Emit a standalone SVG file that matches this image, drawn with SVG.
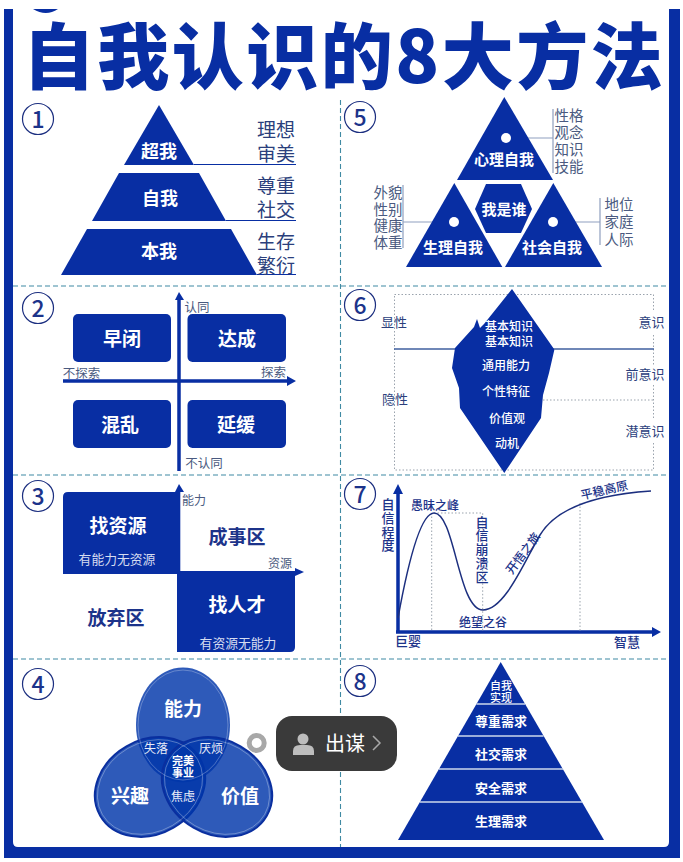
<svg xmlns="http://www.w3.org/2000/svg" width="683" height="862" viewBox="0 0 683 862">
<style>
text{font-family:"Noto Sans CJK SC","Noto Sans",sans-serif;text-anchor:middle;dominant-baseline:central}
.b{fill:#082ea3}
.w{fill:#fff;font-weight:700}
.m{fill:#fff;font-weight:500}
.n{fill:#2b3f7c}
.d{fill:#1c338a;font-weight:700}
.e{fill:#1c338a;font-weight:500}
.s{fill:#4a5a80}
.dash{stroke:#3f8aa3;stroke-width:1.1;stroke-dasharray:5 3;fill:none}
.dot{stroke:#9aa3ad;stroke-width:1;stroke-dasharray:1.5 2;fill:none}
.ln{stroke:#082ea3;stroke-width:1.2;fill:none}
.gl{stroke:#8f9fbf;stroke-width:1.2;fill:none}
.ax{stroke:#082ea3;stroke-width:3.5;fill:none}
.c{fill:#fff;stroke:#1c2f80;stroke-width:1.2}
.cn{fill:#1c338a;font-size:23px;font-weight:500}
.ve{fill:#0036aa;fill-opacity:.82}
.vr{stroke:#0a2f9f;stroke-width:2}
.vi{fill:none;stroke:#fff;stroke-opacity:.35;stroke-width:.8}
.sl{stroke:#ccd7ec;stroke-width:1.4}
</style>
<g id="frame">
<path class="b" fill-rule="evenodd" d="M4 9H13V842Q13 847 18 847H664Q669 847 669 842V9H680V858H4Z"/>
<path class="b" d="M33 9H58Q46 17 33 9Z"/>
</g>
<text id="title" x="344" y="51.500" class="b" font-size="72" font-weight="900" letter-spacing="2.500">自我认识的8大方法</text>
<g id="dividers">
<path class="dash" d="M13 286H669M13 475H669M13 659H669M340.500 100V847"/>
</g>
<g id="badges">
<circle class="c" cx="38" cy="119" r="15.500"/><text class="cn" x="38" y="118">1</text>
<circle class="c" cx="360" cy="117" r="15.500"/><text class="cn" x="360" y="116">5</text>
<circle class="c" cx="38" cy="308" r="15.500"/><text class="cn" x="38" y="307">2</text>
<circle class="c" cx="360" cy="305" r="15.500"/><text class="cn" x="360" y="304">6</text>
<circle class="c" cx="38" cy="496" r="15.500"/><text class="cn" x="38" y="495">3</text>
<circle class="c" cx="360" cy="494" r="15.500"/><text class="cn" x="360" y="493">7</text>
<circle class="c" cx="38" cy="684" r="15.500"/><text class="cn" x="38" y="683">4</text>
<circle class="c" cx="360" cy="681" r="15.500"/><text class="cn" x="360" y="680">8</text>
</g>
<g id="connectors">
<path class="ln" d="M194 164.500H296M226 220.500H296M257 274.500H296"/>
<path class="gl" d="M506 138H553M553 109V173M403 185V248M403 222H454M600 198V245M553 222H600"/>
<path class="ax" d="M179 300V471M63 381H288"/>
<path class="b" d="M179 292L184 300H175ZM296 381L287 376V386Z"/>
<path class="dot" d="M394.500 294.500H653.500V312M653.500 335V365M653.500 385V420M653.500 443V470H394.500V294.500M543 400H653.500"/>
<path stroke="#3f5f9f" stroke-width="1.400" d="M394 349H654"/>
<path class="b" d="M179 484L184 492H175ZM304 572L295 568V576Z"/>
<path class="ax" d="M398 494V632M396 632H653"/>
<path class="b" d="M398 484L403 494H393ZM661 632L652 627V637Z"/>
<path class="dot" d="M431.700 513V632M434 513H482.700V632M580 503V632"/>
<path d="M398 618C404 585 418 513 434 513C455 513 458 610 483 610C505 610 525 560 540 535C555 510 590 495 651 491" fill="none" stroke="#1c2f7f" stroke-width="1.500"/>
</g>
<g id="method-1">
<path id="n-super" class="b" d="M159 105L194 165H124Z"/><text class="w" x="159" y="150" font-size="18">超我</text>
<path id="n-ego" class="b" d="M119 173H199L226 221H92Z"/><text class="w" x="160" y="197" font-size="18">自我</text>
<path id="n-id" class="b" d="M87 229H231L257 275H61Z"/><text class="w" x="159" y="250" font-size="18">本我</text>
<text class="n" font-size="19"><tspan x="276" y="128">理想</tspan><tspan x="276" y="152">审美</tspan></text>
<text class="n" font-size="19"><tspan x="276" y="184">尊重</tspan><tspan x="276" y="208">社交</tspan></text>
<text class="n" font-size="19"><tspan x="276" y="240">生存</tspan><tspan x="276" y="264">繁衍</tspan></text>
</g>
<g id="method-5">
<path id="n-psy" class="b" d="M504.300 97L553 180H457Z"/><circle cx="506" cy="138" r="5" fill="#fff"/><text class="w" x="504" y="158" font-size="15">心理自我</text>
<path id="n-bio" class="b" d="M454.300 183L502.300 267H406Z"/><circle cx="454" cy="222" r="5" fill="#fff"/><text class="w" x="453" y="246" font-size="15">生理自我</text>
<path id="n-soc" class="b" d="M553.300 183L602 267H505Z"/><circle cx="553" cy="222" r="5" fill="#fff"/><text class="w" x="552" y="246" font-size="15">社会自我</text>
<path id="n-who" class="b" d="M475 209L486 184H521L532 209L521 233H486Z"/><text class="w" x="504" y="208" font-size="15">我是谁</text>
<text class="s" font-size="14.500"><tspan x="569" y="114">性格</tspan><tspan x="569" y="131">观念</tspan><tspan x="569" y="148">知识</tspan><tspan x="569" y="165">技能</tspan></text>
<text class="s" font-size="14.500"><tspan x="388" y="191">外貌</tspan><tspan x="388" y="207.500">性别</tspan><tspan x="388" y="224">健康</tspan><tspan x="388" y="241">体重</tspan></text>
<text class="s" font-size="14.500"><tspan x="619" y="203">地位</tspan><tspan x="619" y="220">家庭</tspan><tspan x="619" y="238">人际</tspan></text>
</g>
<g id="method-2">
<g id="n-foreclosed"><rect class="b" x="73" y="314" width="98" height="48" rx="5"/><text class="w" x="122" y="337" font-size="19">早闭</text></g>
<g id="n-achieved"><rect class="b" x="187.500" y="314" width="98.500" height="48" rx="5"/><text class="w" x="237" y="337" font-size="19">达成</text></g>
<g id="n-diffused"><rect class="b" x="73" y="400" width="98" height="48" rx="5"/><text class="w" x="120" y="423" font-size="19">混乱</text></g>
<g id="n-moratorium"><rect class="b" x="187.500" y="400" width="98.500" height="48" rx="5"/><text class="w" x="236" y="423" font-size="19">延缓</text></g>
<g class="s" font-size="12.500"><text x="197" y="306">认同</text><text x="81.500" y="372">不探索</text><text x="273.500" y="371">探索</text><text x="204" y="462">不认同</text></g>
</g>
<g id="method-6">
<path id="n-iceberg" class="b" d="M512 289L554 349L554.300 350L549 373L543 395L541 418L504.300 473L460 408L459 388L452 368L455 348L474 327L477 319L480 328L484 324Z"/>
<text class="m" font-size="12"><tspan x="509" y="325">基本知识</tspan><tspan x="509" y="340">基本知识</tspan></text>
<g class="m" font-size="12"><text x="506" y="364">通用能力</text><text x="506" y="390">个性特征</text><text x="507" y="417">价值观</text><text x="507" y="442">动机</text></g>
<g class="n" font-size="13"><text x="394" y="321">显性</text><text x="395" y="398">隐性</text><text x="651.500" y="321">意识</text><text x="645" y="373">前意识</text><text x="645" y="430">潜意识</text></g>
</g>
<g id="method-3">
<g id="n-find-res"><path class="b" d="M68 492H180.300V574H63V497Q63 492 68 492Z"/><text class="w" x="118" y="524" font-size="19">找资源</text><text fill="#d5dcf0" x="117" y="558" font-size="12.800">有能力无资源</text></g>
<g id="n-find-people"><path class="b" d="M177 571H295V647Q295 652 290 652H177Z"/><text class="w" x="237" y="603" font-size="19">找人才</text><text fill="#d5dcf0" x="238" y="642" font-size="12.800">有资源无能力</text></g>
<text class="d" x="237" y="535" font-size="19">成事区</text>
<text class="d" x="116" y="616" font-size="19">放弃区</text>
<g class="s" font-size="12"><text x="194" y="499">能力</text><text x="280" y="562">资源</text></g>
</g>
<g id="method-7">
<g class="e" font-size="13"><text x="388 388 388 388" y="503 517 531 544">自信程度</text>
<text x="482 482 482 482 482" y="521 534.500 548 562 576">自信崩溃区</text>
<text x="408" y="640">巨婴</text><text x="627" y="641">智慧</text></g>
<g class="e" font-size="12"><text x="435" y="504">愚昧之峰</text><text x="483" y="621">绝望之谷</text>
<text x="0" y="0" transform="translate(522 552.500) rotate(-53)">开悟之旅</text>
<text x="0" y="0" transform="translate(604 489) rotate(-13)">平稳高原</text></g>
</g>
<g id="method-4">
<g id="n-ability"><ellipse class="ve" cx="183" cy="725" rx="47" ry="57.500"/></g>
<g id="n-interest"><ellipse class="ve vr" cx="150" cy="787" rx="47" ry="57.500" transform="rotate(60 150 787)"/></g>
<g id="n-value"><ellipse class="ve vr" cx="217" cy="787" rx="47" ry="57.500" transform="rotate(-60 217 787)"/></g>
<ellipse class="vi" cx="183" cy="725" rx="45" ry="55"/>
<ellipse class="vi" cx="150" cy="787" rx="44.500" ry="55" transform="rotate(60 150 787)"/>
<ellipse class="vi" cx="217" cy="787" rx="44.500" ry="55" transform="rotate(-60 217 787)"/>
<text class="w" x="183" y="707" font-size="19">能力</text>
<text class="w" x="130" y="794" font-size="19">兴趣</text>
<text class="w" x="240" y="794" font-size="19">价值</text>
<g fill="#e8ecf8" font-size="12"><text x="156" y="747">失落</text><text x="211" y="747">厌烦</text><text x="183" y="795">焦虑</text></g>
<text class="w" font-size="11"><tspan x="183" y="759.500">完美</tspan><tspan x="183" y="771.500">事业</tspan></text>
</g>
<g id="method-8">
<path id="n-pyramid" class="b" d="M500.700 662L604 840H398Z"/>
<path class="sl" d="M476.400 704H525M458 736H543.500M439 769H563M420 802H582"/>
<text class="m" font-size="11"><tspan x="501" y="684.500">自我</tspan><tspan x="501" y="696.500">实现</tspan></text>
<g class="w" font-size="13"><text x="501" y="720">尊重需求</text><text x="501" y="753">社交需求</text><text x="501" y="787">安全需求</text><text x="501" y="820">生理需求</text></g>
</g>
<g id="overlay">
<circle cx="256.700" cy="743" r="7.500" fill="#fff" stroke="#a8a8a8" stroke-width="5"/>
<rect x="276" y="716" width="121" height="55" rx="16" fill="#3a3a3a"/>
<circle cx="303" cy="739" r="5.500" fill="#bdbdbd"/>
<path d="M293 755V751Q293 745 300 745H307Q314 745 314 751V755Z" fill="#bdbdbd"/>
<text x="345" y="742" fill="#fff" font-size="20">出谋</text>
<path d="M373 736L380 743L373 750" fill="none" stroke="#a8a8a8" stroke-width="1.500"/>
</g>
</svg>
